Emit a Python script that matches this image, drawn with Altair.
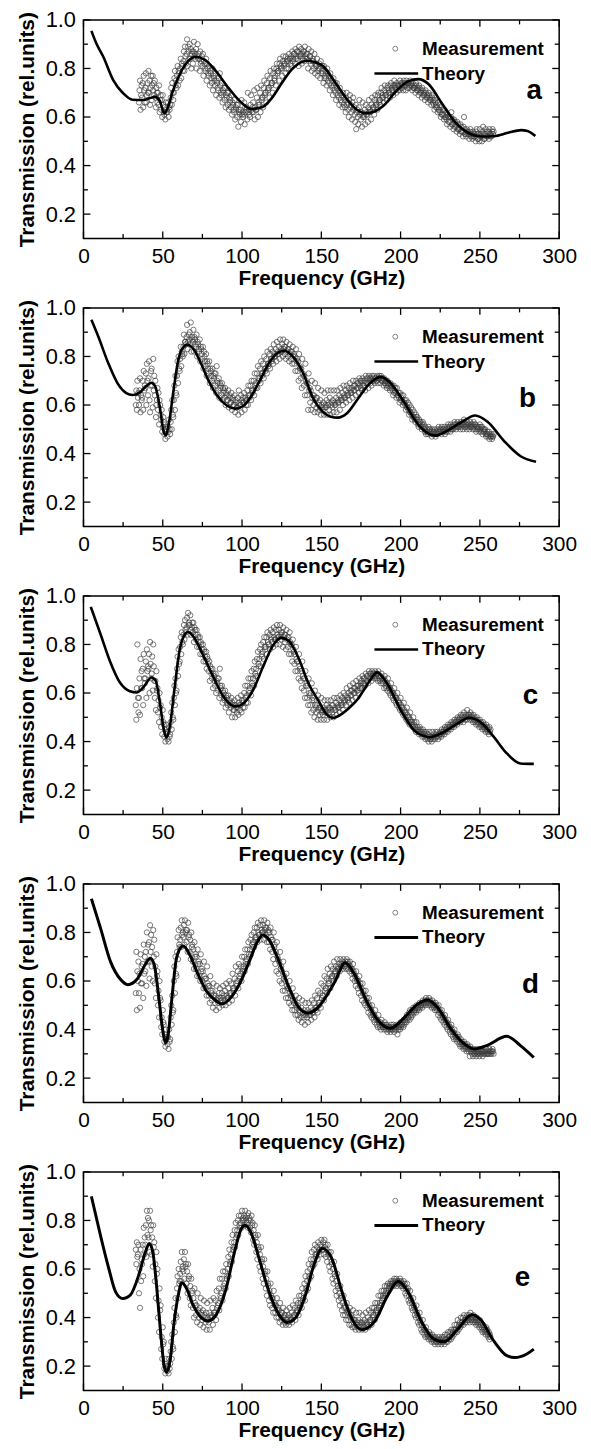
import altair as alt
import pandas as pd

FONT = "Liberation Sans"
FREQ_TICKS = [0, 50, 100, 150, 200, 250, 300]
FREQ_MINOR = [25, 75, 125, 175, 225, 275]
T_TICKS = [0.2, 0.4, 0.6, 0.8, 1.0]
T_MINOR = [0.3, 0.5, 0.7, 0.9]
SAMPLE_STEP = 1.0 / 3.0  # GHz between the six consecutive readings of one row

# ---- theory curves: [frequency GHz, transmission] ----
theory_a = [[5, 0.955], [8, 0.905], [12.5, 0.848], [18.75, 0.752], [25, 0.698], [31, 0.671], [37.5, 0.670],
            [42, 0.678], [45, 0.683], [48, 0.668], [51, 0.616], [53, 0.635], [56, 0.70], [60, 0.766],
            [65.6, 0.827], [70.5, 0.848], [77, 0.834], [83, 0.793], [91.7, 0.718], [100, 0.657], [106, 0.633],
            [112.5, 0.64], [118.75, 0.678], [125, 0.739], [131, 0.793], [137, 0.825], [141, 0.832], [146, 0.826],
            [151, 0.810], [157, 0.759], [165.6, 0.678], [172, 0.632], [178, 0.616], [184, 0.624], [189, 0.645],
            [197, 0.705], [205, 0.748], [211, 0.756], [217.7, 0.735], [226, 0.657], [234, 0.582], [242.7, 0.535],
            [251, 0.520], [259, 0.521], [267.7, 0.535], [276, 0.546], [280, 0.542], [285, 0.522]]
theory_b = [[5, 0.951], [9.4, 0.881], [15.6, 0.773], [21.9, 0.685], [27, 0.649], [31, 0.641], [35.4, 0.651],
            [39.6, 0.678], [42.7, 0.692], [45.2, 0.678], [48, 0.597], [50.6, 0.489], [52, 0.476], [54, 0.53],
            [56.9, 0.665], [59.8, 0.786], [62.5, 0.834], [65.6, 0.848], [69.8, 0.827], [74, 0.773], [79, 0.699],
            [84.4, 0.638], [90.6, 0.597], [95.8, 0.585], [101, 0.597], [106, 0.638], [111.5, 0.705],
            [117.7, 0.78], [124, 0.82], [127, 0.823], [132, 0.80], [138.5, 0.732], [145, 0.625], [151, 0.572],
            [156, 0.552], [160.4, 0.548], [166, 0.565], [173, 0.625], [180, 0.685], [187.5, 0.716], [193, 0.695],
            [201, 0.624], [211.5, 0.516], [219.8, 0.476], [222, 0.474], [228, 0.489], [238.5, 0.53], [247, 0.557],
            [255, 0.53], [265.6, 0.449], [276, 0.388], [285.4, 0.366]]
theory_c = [[4.6, 0.955], [10.5, 0.847], [16.7, 0.731], [23, 0.643], [29.3, 0.607], [33.5, 0.602], [37.7, 0.623],
            [42.9, 0.664], [45.6, 0.65], [48, 0.568], [50.8, 0.446], [52.3, 0.416], [54.4, 0.46], [57.5, 0.623],
            [60.7, 0.779], [63.8, 0.84], [65.9, 0.851], [70, 0.826], [75.3, 0.758], [81.6, 0.67], [87.9, 0.589],
            [94, 0.548], [96, 0.545], [100.4, 0.555], [106.7, 0.609], [113, 0.704], [119.2, 0.792], [124.5, 0.827],
            [129.7, 0.813], [136, 0.738], [142, 0.638], [148.5, 0.565], [153, 0.515], [157.3, 0.498], [162, 0.51],
            [167, 0.535], [173, 0.575], [178, 0.625], [183.5, 0.677], [185, 0.685], [191.8, 0.636], [200.2, 0.528],
            [208.6, 0.446], [217, 0.419], [218, 0.418], [225.3, 0.433], [235.8, 0.474], [243, 0.498], [250.4, 0.48],
            [258.8, 0.419], [267, 0.351], [275.5, 0.31], [284, 0.308]]
theory_d = [[5, 0.939], [10.8, 0.817], [17, 0.681], [23.3, 0.607], [28, 0.585], [33.75, 0.607], [39, 0.668],
            [42, 0.694], [44.6, 0.668], [47.3, 0.545], [50, 0.396], [51.7, 0.345], [53.5, 0.383], [55.6, 0.518],
            [58.3, 0.681], [60.8, 0.733], [62.9, 0.744], [67, 0.708], [72.3, 0.627], [77.5, 0.559], [83.75, 0.518],
            [86.9, 0.505], [92, 0.525], [98.3, 0.586], [104.6, 0.681], [109.8, 0.763], [113, 0.79], [117, 0.77],
            [123.3, 0.681], [129.6, 0.573], [135.8, 0.491], [141.5, 0.468], [147.3, 0.487], [150.4, 0.511],
            [158.75, 0.6], [165, 0.675], [171, 0.627], [178.5, 0.518], [185.8, 0.437], [193.5, 0.405],
            [202.5, 0.45], [210.8, 0.505], [217, 0.522], [223.3, 0.491], [231.7, 0.403], [240, 0.342],
            [246.5, 0.32], [254.6, 0.335], [267, 0.372], [275.4, 0.335], [284, 0.285]]
theory_e = [[5, 0.899], [10.8, 0.736], [16, 0.601], [20.2, 0.507], [24.8, 0.478], [29.6, 0.493], [34.8, 0.574],
            [39, 0.669], [41.5, 0.705], [43.75, 0.669], [46.25, 0.52], [48.75, 0.331], [51, 0.196], [52.5, 0.175],
            [54.6, 0.223], [57, 0.372], [59.8, 0.493], [62, 0.543], [65, 0.52], [69, 0.453], [74.4, 0.399],
            [78.5, 0.386], [83.75, 0.412], [90, 0.52], [95.2, 0.669], [99.4, 0.764], [101.9, 0.78], [105.6, 0.75],
            [110.8, 0.642], [117, 0.507], [123.3, 0.412], [128.5, 0.38], [133.75, 0.399], [140, 0.493],
            [145.5, 0.62], [150.6, 0.685], [156.7, 0.642], [163, 0.507], [169, 0.399], [175.6, 0.35],
            [183.75, 0.385], [192, 0.493], [198.5, 0.55], [204.6, 0.507], [213, 0.385], [221, 0.311], [227.5, 0.30],
            [235.8, 0.351], [245, 0.412], [250.4, 0.392], [258.75, 0.304], [267, 0.243], [272, 0.235],
            [279.6, 0.25], [284, 0.27]]

# ---- measurements: [start GHz, six consecutive readings (hundredths of rel. units)] ----
meas_a = [
    [35, 66, 71, 75, 63, 69, 73], [37, 68, 74, 64, 77, 71, 66], [39, 72, 78, 66, 69, 74, 70], [41, 79, 70, 75, 65, 72, 77],
    [43, 67, 73, 77, 71, 74, 69], [45, 75, 68, 64, 72, 70, 66], [47, 70, 65, 73, 62, 67, 69], [49, 63, 67, 60, 69, 65, 62],
    [51, 61, 64, 59, 66, 62, 63], [53, 62, 66, 60, 64, 63, 65], [55, 68, 72, 65, 74, 70, 67], [57, 70, 76, 79, 73, 75, 72],
    [59, 77, 81, 73, 79, 78, 75], [61, 80, 84, 76, 82, 81, 79], [63, 83, 87, 79, 89, 85, 82], [65, 86, 92, 81, 89, 87, 84],
    [67, 90, 84, 88, 80, 86, 87], [69, 82, 87, 91, 85, 86, 84], [71, 88, 80, 85, 90, 84, 86], [73, 84, 79, 87, 82, 83, 85],
    [75, 81, 86, 77, 83, 82, 80], [77, 79, 84, 75, 82, 80, 78], [79, 77, 81, 73, 79, 78, 76], [81, 74, 80, 71, 77, 76, 75],
    [83, 73, 78, 69, 75, 74, 72], [85, 71, 76, 68, 78, 73, 70], [87, 69, 74, 66, 71, 70, 72], [89, 67, 72, 64, 69, 68, 70],
    [91, 65, 70, 63, 68, 66, 67], [93, 64, 69, 61, 66, 65, 63], [95, 62, 67, 59, 64, 63, 65], [97, 60, 65, 56, 63, 62, 61],
    [99, 63, 58, 67, 61, 62, 60], [101, 61, 66, 57, 64, 62, 63], [103, 64, 59, 70, 62, 63, 61], [105, 60, 65, 69, 63, 62, 64],
    [107, 66, 62, 71, 59, 64, 63], [109, 63, 68, 72, 60, 65, 66], [111, 65, 70, 62, 73, 67, 68], [113, 68, 64, 72, 75, 69, 70],
    [115, 70, 66, 74, 77, 71, 72], [117, 72, 68, 76, 79, 73, 74], [119, 74, 70, 78, 80, 76, 75], [121, 77, 73, 80, 82, 78, 79],
    [123, 79, 75, 82, 84, 80, 81], [125, 80, 77, 83, 85, 81, 82], [127, 82, 78, 85, 80, 83, 84], [129, 83, 80, 86, 84, 84, 82],
    [131, 85, 81, 87, 83, 84, 86], [133, 86, 82, 88, 84, 85, 87], [135, 84, 87, 81, 89, 85, 86], [137, 85, 88, 82, 86, 84, 87],
    [139, 87, 83, 89, 85, 86, 84], [141, 84, 86, 80, 88, 83, 85], [143, 85, 82, 87, 79, 83, 84], [145, 83, 80, 86, 78, 82, 81],
    [147, 81, 84, 77, 79, 80, 82], [149, 80, 76, 83, 78, 79, 81], [151, 78, 74, 81, 76, 77, 79], [153, 76, 73, 80, 78, 75, 77],
    [155, 74, 71, 78, 76, 73, 75], [157, 72, 69, 76, 73, 71, 74], [159, 70, 67, 74, 72, 69, 71], [161, 68, 65, 72, 70, 67, 69],
    [163, 66, 64, 70, 68, 65, 67], [165, 64, 62, 68, 70, 65, 66], [167, 63, 60, 67, 69, 64, 65], [169, 62, 59, 66, 68, 63, 64],
    [171, 61, 58, 65, 55, 62, 63], [173, 60, 57, 64, 67, 61, 62], [175, 59, 62, 56, 66, 60, 61], [177, 60, 63, 57, 65, 61, 62],
    [179, 61, 58, 64, 67, 62, 63], [181, 62, 59, 65, 68, 63, 64], [183, 64, 61, 67, 69, 65, 66], [185, 65, 63, 69, 70, 66, 67],
    [187, 67, 65, 70, 72, 68, 69], [189, 68, 66, 71, 73, 69, 70], [191, 69, 67, 72, 73, 70, 71], [193, 70, 68, 73, 74, 71, 72],
    [195, 71, 69, 73, 75, 72, 73], [197, 72, 70, 74, 73, 71, 73], [199, 73, 71, 75, 72, 74, 73], [201, 72, 74, 71, 75, 73, 74],
    [203, 73, 71, 75, 74, 72, 74], [205, 74, 72, 73, 75, 73, 74], [207, 73, 71, 74, 72, 72, 73], [209, 72, 70, 74, 73, 71, 72],
    [211, 71, 69, 73, 72, 70, 71], [213, 70, 68, 72, 71, 69, 70], [215, 69, 67, 71, 70, 68, 69], [217, 68, 66, 70, 69, 67, 68],
    [219, 67, 65, 69, 68, 66, 67], [221, 65, 63, 67, 66, 64, 65], [223, 64, 62, 66, 63, 63, 65], [225, 62, 60, 64, 61, 61, 63],
    [227, 61, 59, 63, 60, 60, 62], [229, 59, 57, 61, 60, 58, 60], [231, 58, 56, 60, 62, 57, 59], [233, 57, 55, 59, 56, 58, 57],
    [235, 56, 54, 58, 55, 57, 55], [237, 55, 53, 57, 54, 56, 54], [239, 54, 52, 56, 60, 55, 53], [241, 53, 52, 55, 54, 54, 53],
    [243, 53, 51, 54, 55, 52, 53], [245, 52, 51, 54, 53, 52, 53], [247, 52, 50, 54, 55, 53, 51], [249, 51, 53, 50, 55, 52, 53],
    [251, 52, 50, 54, 56, 53, 51], [253, 51, 53, 55, 52, 54, 52], [255, 52, 54, 51, 55, 53, 52], [257, 53, 52, 54, 55, 53, 54]]
meas_b = [
    [33, 60, 66, 58, 70, 63, 65], [35, 60, 66, 71, 57, 64, 62], [37, 63, 70, 58, 74, 66, 68], [39, 67, 73, 60, 77, 70, 64],
    [41, 71, 78, 62, 57, 68, 74], [43, 75, 68, 59, 79, 66, 72], [45, 64, 70, 55, 60, 62, 67], [47, 58, 65, 52, 62, 60, 56],
    [49, 54, 58, 49, 51, 55, 53], [51, 48, 52, 46, 50, 49, 51], [53, 47, 51, 49, 54, 50, 48], [55, 53, 58, 50, 62, 56, 55],
    [57, 62, 68, 58, 72, 65, 64], [59, 72, 78, 69, 80, 75, 74], [61, 79, 84, 76, 82, 81, 80], [63, 84, 89, 81, 86, 86, 85],
    [65, 88, 93, 83, 86, 89, 87], [67, 90, 85, 94, 82, 88, 87], [69, 86, 91, 82, 88, 87, 85], [71, 84, 89, 80, 86, 85, 83],
    [73, 82, 87, 78, 84, 83, 81], [75, 79, 84, 75, 82, 80, 78], [77, 76, 81, 72, 78, 77, 75], [79, 73, 78, 69, 75, 74, 72],
    [81, 70, 75, 67, 72, 71, 73], [83, 68, 73, 65, 76, 70, 69], [85, 66, 71, 63, 69, 67, 68], [87, 64, 69, 62, 67, 65, 66],
    [89, 63, 67, 60, 65, 64, 62], [91, 62, 66, 59, 64, 63, 61], [93, 61, 65, 58, 63, 62, 60], [95, 60, 64, 57, 62, 61, 59],
    [97, 59, 63, 56, 66, 61, 60], [99, 60, 64, 57, 62, 61, 63], [101, 61, 65, 58, 63, 62, 60], [103, 62, 66, 60, 68, 64, 63],
    [105, 64, 68, 62, 70, 66, 65], [107, 66, 70, 64, 73, 68, 67], [109, 69, 73, 67, 76, 71, 70], [111, 71, 75, 69, 78, 73, 72],
    [113, 73, 77, 71, 80, 75, 74], [115, 75, 79, 73, 82, 77, 76], [117, 77, 81, 75, 83, 79, 78], [119, 79, 82, 77, 85, 80, 81],
    [121, 80, 83, 78, 86, 81, 82], [123, 81, 84, 79, 87, 82, 83], [125, 82, 85, 80, 87, 83, 84], [127, 81, 84, 79, 86, 82, 83],
    [129, 80, 83, 78, 85, 81, 82], [131, 79, 82, 77, 84, 80, 81], [133, 77, 80, 74, 83, 78, 79], [135, 74, 78, 70, 81, 76, 75],
    [137, 71, 75, 67, 79, 73, 72], [139, 68, 72, 64, 77, 70, 69], [141, 64, 69, 58, 73, 66, 67], [143, 61, 66, 58, 70, 63, 64],
    [145, 60, 64, 57, 69, 62, 63], [147, 59, 63, 57, 67, 61, 60], [149, 58, 62, 56, 66, 60, 59], [151, 58, 61, 56, 65, 59, 60],
    [153, 59, 62, 56, 66, 60, 61], [155, 58, 63, 56, 66, 60, 61], [157, 59, 62, 57, 66, 60, 61], [159, 60, 63, 57, 66, 61, 62],
    [161, 61, 64, 58, 67, 62, 63], [163, 62, 65, 60, 68, 63, 64], [165, 63, 66, 61, 68, 64, 65], [167, 64, 67, 62, 69, 65, 66],
    [169, 65, 67, 63, 70, 66, 68], [171, 66, 68, 64, 70, 67, 69], [173, 67, 69, 65, 71, 68, 70], [175, 67, 70, 66, 71, 68, 69],
    [177, 68, 70, 66, 72, 69, 71], [179, 69, 71, 67, 72, 70, 71], [181, 69, 71, 68, 72, 70, 71], [183, 70, 72, 69, 71, 71, 70],
    [185, 70, 72, 69, 71, 71, 72], [187, 71, 69, 72, 70, 70, 71], [189, 70, 68, 71, 69, 69, 70], [191, 68, 67, 70, 69, 68, 69],
    [193, 67, 66, 69, 68, 67, 68], [195, 66, 64, 68, 65, 66, 67], [197, 65, 63, 67, 64, 64, 65], [199, 63, 61, 65, 62, 63, 64],
    [201, 62, 60, 64, 61, 61, 62], [203, 60, 58, 62, 59, 59, 61], [205, 58, 56, 60, 57, 57, 59], [207, 56, 54, 58, 55, 55, 57],
    [209, 54, 53, 56, 55, 54, 55], [211, 52, 51, 54, 53, 52, 53], [213, 51, 50, 52, 53, 51, 52], [215, 50, 49, 51, 48, 49, 50],
    [217, 49, 48, 51, 50, 49, 50], [219, 48, 49, 47, 50, 48, 49], [221, 49, 48, 50, 47, 48, 49], [223, 48, 50, 49, 51, 49, 50],
    [225, 49, 50, 48, 51, 49, 50], [227, 50, 49, 51, 48, 50, 49], [229, 50, 51, 49, 52, 50, 51], [231, 51, 49, 52, 50, 51, 50],
    [233, 51, 50, 52, 53, 51, 52], [235, 50, 52, 51, 53, 51, 52], [237, 51, 52, 50, 53, 51, 52], [239, 52, 50, 53, 54, 51, 52],
    [241, 51, 52, 50, 53, 51, 52], [243, 52, 50, 51, 53, 51, 52], [245, 51, 52, 50, 53, 51, 52], [247, 50, 52, 49, 51, 50, 51],
    [249, 50, 51, 49, 52, 50, 51], [251, 49, 51, 48, 50, 49, 50], [253, 49, 50, 48, 47, 48, 49], [255, 48, 47, 49, 46, 48, 47],
    [257, 47, 48, 46, 47, 47, 48]]
meas_c = [
    [33, 55, 49, 62, 80, 58, 52], [35, 58, 66, 51, 74, 62, 69], [37, 62, 70, 55, 76, 66, 64], [39, 66, 73, 58, 78, 69, 71],
    [41, 70, 76, 60, 81, 72, 66], [43, 68, 75, 61, 80, 71, 65], [45, 58, 65, 53, 69, 61, 62], [47, 52, 57, 48, 60, 54, 55],
    [49, 46, 50, 43, 53, 48, 47], [51, 42, 45, 40, 47, 43, 44], [53, 41, 44, 40, 46, 42, 43], [55, 48, 52, 45, 56, 50, 49],
    [57, 58, 63, 55, 66, 60, 61], [59, 70, 75, 67, 78, 72, 73], [61, 79, 83, 76, 85, 81, 80], [63, 84, 88, 82, 90, 86, 85],
    [65, 87, 91, 84, 93, 88, 89], [67, 88, 92, 84, 86, 87, 89], [69, 85, 89, 81, 87, 86, 84], [71, 82, 86, 79, 84, 83, 81],
    [73, 79, 83, 76, 81, 80, 78], [75, 76, 80, 73, 78, 77, 75], [77, 73, 77, 70, 75, 74, 72], [79, 69, 73, 65, 71, 70, 68],
    [81, 66, 70, 62, 68, 67, 65], [83, 63, 68, 60, 65, 64, 66], [85, 61, 66, 58, 70, 63, 62], [87, 59, 63, 56, 61, 60, 58],
    [89, 57, 61, 54, 59, 58, 56], [91, 55, 59, 52, 57, 56, 55], [93, 54, 58, 50, 56, 55, 53], [95, 53, 57, 50, 55, 54, 52],
    [97, 54, 58, 51, 56, 55, 53], [99, 55, 59, 52, 57, 56, 54], [101, 57, 60, 54, 63, 58, 56], [103, 59, 63, 56, 66, 61, 60],
    [105, 62, 66, 59, 69, 64, 63], [107, 66, 70, 63, 73, 68, 67], [109, 70, 74, 67, 77, 72, 71], [111, 74, 78, 71, 80, 76, 75],
    [113, 77, 81, 74, 83, 79, 78], [115, 79, 83, 76, 85, 81, 80], [117, 80, 84, 78, 86, 82, 83], [119, 81, 85, 79, 87, 83, 82],
    [121, 82, 86, 80, 88, 84, 83], [123, 83, 86, 80, 88, 84, 85], [125, 82, 85, 79, 87, 83, 84], [127, 81, 84, 78, 86, 82, 83],
    [129, 79, 83, 76, 85, 81, 80], [131, 76, 80, 73, 82, 78, 77], [133, 72, 76, 69, 79, 74, 73], [135, 69, 73, 66, 76, 71, 70],
    [137, 65, 69, 62, 73, 67, 66], [139, 61, 66, 58, 69, 63, 64], [141, 58, 63, 55, 66, 60, 59], [143, 55, 60, 52, 64, 57, 58],
    [145, 53, 57, 50, 61, 55, 54], [147, 52, 55, 49, 59, 53, 54], [149, 51, 54, 49, 58, 52, 53], [151, 51, 54, 49, 57, 52, 53],
    [153, 52, 55, 49, 57, 53, 54], [155, 52, 54, 50, 57, 53, 55], [157, 52, 55, 50, 58, 53, 54], [159, 53, 56, 51, 58, 54, 55],
    [161, 54, 57, 52, 59, 55, 56], [163, 55, 58, 53, 60, 56, 57], [165, 57, 59, 55, 62, 58, 57], [167, 58, 60, 56, 63, 59, 61],
    [169, 59, 61, 57, 64, 60, 62], [171, 60, 62, 58, 65, 61, 63], [173, 61, 63, 60, 66, 62, 64], [175, 63, 65, 62, 67, 64, 66],
    [177, 64, 66, 63, 68, 65, 67], [179, 65, 67, 64, 69, 66, 68], [181, 66, 68, 65, 69, 67, 68], [183, 67, 68, 66, 69, 67, 68],
    [185, 66, 68, 65, 69, 67, 66], [187, 65, 67, 64, 68, 66, 65], [189, 64, 66, 62, 67, 65, 63], [191, 62, 64, 61, 66, 63, 62],
    [193, 60, 62, 59, 64, 61, 60], [195, 58, 60, 57, 62, 59, 58], [197, 56, 58, 55, 60, 57, 56], [199, 54, 56, 53, 58, 55, 54],
    [201, 52, 54, 51, 56, 53, 52], [203, 50, 52, 49, 54, 51, 50], [205, 48, 50, 47, 52, 49, 48], [207, 47, 48, 46, 50, 47, 48],
    [209, 45, 46, 44, 48, 45, 46], [211, 44, 45, 43, 46, 44, 45], [213, 43, 44, 42, 45, 43, 44], [215, 42, 43, 41, 44, 42, 43],
    [217, 41, 43, 40, 44, 42, 41], [219, 41, 42, 40, 44, 42, 41], [221, 42, 43, 41, 44, 42, 43], [223, 42, 44, 41, 43, 42, 43],
    [225, 43, 44, 42, 45, 43, 44], [227, 44, 45, 43, 46, 44, 45], [229, 45, 46, 44, 47, 45, 46], [231, 46, 47, 45, 48, 46, 47],
    [233, 47, 48, 46, 49, 47, 48], [235, 48, 49, 47, 50, 48, 49], [237, 49, 50, 48, 51, 49, 50], [239, 49, 51, 48, 52, 50, 49],
    [241, 50, 51, 49, 53, 50, 51], [243, 50, 51, 49, 52, 50, 51], [245, 49, 50, 48, 51, 49, 50], [247, 48, 49, 47, 50, 48, 49],
    [249, 47, 48, 46, 49, 47, 48], [251, 46, 47, 45, 48, 46, 47], [253, 45, 46, 44, 47, 45, 46], [255, 44, 45, 43, 46, 44, 45]]
meas_d = [
    [33, 55, 72, 48, 64, 60, 68], [35, 55, 63, 49, 71, 59, 66], [37, 59, 67, 53, 75, 63, 70], [39, 64, 72, 58, 80, 68, 75],
    [41, 68, 76, 61, 83, 72, 79], [43, 66, 74, 60, 81, 70, 77], [45, 59, 66, 53, 71, 62, 64], [47, 50, 56, 45, 60, 53, 52],
    [49, 41, 45, 38, 48, 43, 42], [51, 35, 38, 33, 40, 36, 37], [53, 34, 37, 32, 40, 35, 36], [55, 45, 50, 42, 54, 47, 48],
    [57, 60, 66, 55, 70, 63, 62], [59, 72, 78, 69, 81, 75, 74], [61, 77, 82, 74, 85, 79, 80], [63, 78, 83, 75, 85, 80, 81],
    [65, 76, 81, 72, 84, 78, 79], [67, 72, 77, 69, 80, 74, 75], [69, 68, 73, 65, 76, 70, 71], [71, 65, 70, 62, 73, 67, 68],
    [73, 62, 67, 60, 71, 64, 65], [75, 60, 64, 57, 68, 62, 61], [77, 57, 61, 54, 66, 59, 58], [79, 54, 58, 51, 62, 56, 55],
    [81, 52, 56, 49, 59, 54, 53], [83, 51, 54, 48, 58, 52, 53], [85, 51, 55, 49, 57, 52, 53], [87, 52, 55, 50, 58, 53, 54],
    [89, 52, 56, 50, 59, 54, 53], [91, 53, 57, 51, 60, 55, 54], [93, 55, 59, 52, 63, 57, 56], [95, 57, 61, 54, 66, 59, 58],
    [97, 60, 64, 57, 67, 62, 61], [99, 63, 66, 60, 70, 64, 65], [101, 66, 70, 64, 73, 68, 67], [103, 69, 73, 67, 76, 71, 70],
    [105, 73, 77, 71, 79, 75, 74], [107, 76, 80, 74, 82, 78, 77], [109, 78, 82, 76, 84, 80, 79], [111, 79, 83, 77, 85, 81, 80],
    [113, 80, 83, 77, 85, 81, 82], [115, 79, 82, 76, 84, 80, 81], [117, 76, 80, 73, 82, 78, 77], [119, 72, 77, 69, 80, 74, 75],
    [121, 67, 72, 64, 76, 70, 69], [123, 63, 68, 60, 72, 65, 66], [125, 59, 64, 56, 68, 61, 62], [127, 56, 60, 53, 63, 58, 57],
    [129, 53, 57, 51, 60, 55, 54], [131, 50, 54, 48, 57, 52, 51], [133, 48, 52, 46, 54, 50, 49], [135, 46, 50, 44, 53, 48, 47],
    [137, 45, 49, 43, 52, 47, 46], [139, 45, 48, 42, 51, 46, 47], [141, 45, 48, 43, 51, 46, 47], [143, 46, 49, 44, 52, 47, 48],
    [145, 47, 51, 45, 54, 49, 48], [147, 49, 53, 47, 56, 51, 50], [149, 51, 55, 49, 59, 53, 54], [151, 54, 58, 52, 62, 56, 57],
    [153, 57, 61, 55, 65, 59, 60], [155, 59, 63, 57, 66, 61, 62], [157, 62, 65, 60, 68, 63, 64], [159, 64, 66, 62, 69, 65, 66],
    [161, 65, 67, 64, 69, 66, 67], [163, 66, 68, 65, 69, 67, 66], [165, 66, 68, 65, 69, 67, 68], [167, 65, 67, 64, 68, 66, 65],
    [169, 63, 65, 61, 67, 64, 63], [171, 60, 62, 58, 64, 61, 60], [173, 57, 60, 55, 62, 58, 59], [175, 54, 57, 52, 59, 55, 56],
    [177, 51, 54, 50, 56, 52, 53], [179, 49, 51, 47, 53, 50, 49], [181, 46, 48, 45, 50, 47, 46], [183, 44, 46, 43, 48, 45, 44],
    [185, 42, 44, 41, 46, 43, 42], [187, 41, 43, 40, 44, 42, 41], [189, 41, 42, 40, 43, 41, 42], [191, 40, 42, 39, 41, 40, 41],
    [193, 40, 41, 39, 42, 40, 41], [195, 40, 42, 41, 39, 40, 41], [197, 41, 40, 42, 38, 41, 40], [199, 41, 42, 40, 43, 41, 42],
    [201, 42, 43, 41, 44, 42, 43], [203, 44, 45, 43, 46, 44, 45], [205, 45, 47, 44, 48, 46, 45], [207, 47, 48, 46, 49, 47, 48],
    [209, 48, 49, 47, 50, 48, 49], [211, 49, 50, 48, 51, 49, 50], [213, 50, 51, 49, 52, 50, 51], [215, 51, 52, 50, 53, 51, 52],
    [217, 51, 52, 50, 53, 51, 52], [219, 50, 51, 49, 52, 50, 51], [221, 49, 50, 48, 51, 49, 50], [223, 48, 49, 46, 50, 47, 48],
    [225, 45, 47, 44, 48, 46, 45], [227, 43, 45, 42, 46, 44, 43], [229, 41, 43, 40, 44, 42, 41], [231, 39, 41, 38, 42, 40, 39],
    [233, 37, 39, 36, 40, 38, 37], [235, 36, 37, 35, 38, 36, 37], [237, 34, 35, 33, 36, 34, 35], [239, 33, 34, 32, 35, 33, 34],
    [241, 32, 33, 31, 34, 32, 33], [243, 31, 32, 29, 33, 31, 32], [245, 30, 31, 29, 32, 30, 31], [247, 30, 31, 29, 32, 30, 31],
    [249, 30, 31, 29, 32, 30, 31], [251, 30, 31, 29, 31, 30, 31], [253, 30, 31, 30, 32, 31, 30], [255, 30, 31, 30, 32, 31, 30],
    [257, 31, 30, 31, 32, 31, 30]]
meas_e = [
    [33, 68, 62, 71, 65, 66, 70], [35, 50, 60, 44, 68, 55, 64], [37, 62, 70, 57, 77, 66, 73], [39, 70, 78, 65, 84, 74, 81],
    [41, 73, 80, 67, 84, 76, 78], [43, 66, 73, 61, 78, 69, 71], [45, 55, 62, 48, 67, 58, 60], [47, 40, 47, 34, 52, 43, 45],
    [49, 27, 32, 23, 36, 29, 30], [51, 19, 21, 17, 23, 20, 19], [53, 18, 20, 17, 23, 19, 21], [55, 26, 30, 23, 33, 28, 27],
    [57, 38, 44, 34, 48, 41, 40], [59, 52, 57, 48, 60, 54, 55], [61, 58, 63, 55, 67, 60, 61], [63, 59, 64, 56, 67, 61, 62],
    [65, 54, 59, 50, 62, 56, 57], [67, 48, 53, 45, 56, 50, 51], [69, 44, 48, 40, 52, 46, 45], [71, 41, 45, 38, 50, 43, 42],
    [73, 40, 44, 37, 48, 42, 41], [75, 39, 43, 36, 47, 41, 40], [77, 38, 42, 35, 46, 40, 39], [79, 38, 42, 35, 47, 40, 41],
    [81, 40, 44, 37, 48, 42, 41], [83, 42, 47, 39, 51, 44, 45], [85, 46, 52, 43, 56, 49, 48], [87, 50, 56, 47, 59, 53, 52],
    [89, 54, 59, 52, 62, 56, 57], [91, 60, 65, 57, 68, 62, 63], [93, 66, 71, 63, 74, 68, 69], [95, 71, 76, 69, 79, 73, 74],
    [97, 76, 80, 74, 82, 78, 77], [99, 79, 82, 77, 84, 80, 81], [101, 80, 82, 78, 84, 81, 80], [103, 79, 82, 77, 83, 80, 81],
    [105, 77, 80, 75, 82, 78, 79], [107, 72, 76, 70, 78, 74, 73], [109, 67, 71, 64, 74, 69, 68], [111, 61, 66, 59, 69, 63, 64],
    [113, 56, 61, 54, 64, 58, 59], [115, 52, 56, 49, 59, 54, 53], [117, 47, 51, 45, 54, 49, 48], [119, 44, 48, 42, 51, 46, 45],
    [121, 42, 45, 40, 48, 43, 44], [123, 40, 43, 38, 46, 41, 42], [125, 39, 42, 37, 44, 40, 41], [127, 38, 41, 37, 43, 39, 40],
    [129, 38, 41, 37, 44, 39, 40], [131, 39, 42, 38, 45, 40, 41], [133, 41, 44, 39, 47, 42, 43], [135, 43, 46, 41, 49, 44, 45],
    [137, 46, 49, 44, 52, 47, 48], [139, 50, 54, 47, 57, 52, 51], [141, 55, 59, 52, 62, 57, 56], [143, 60, 64, 57, 67, 62, 61],
    [145, 64, 68, 62, 70, 66, 65], [147, 66, 69, 64, 71, 67, 68], [149, 68, 70, 66, 72, 69, 68], [151, 68, 71, 66, 72, 69, 70],
    [153, 65, 68, 63, 70, 66, 67], [155, 61, 65, 59, 67, 63, 62], [157, 56, 60, 54, 63, 58, 57], [159, 51, 55, 49, 58, 53, 52],
    [161, 47, 50, 45, 53, 48, 49], [163, 43, 46, 41, 49, 44, 45], [165, 41, 44, 39, 46, 42, 43], [167, 39, 42, 37, 44, 40, 41],
    [169, 37, 40, 36, 43, 38, 39], [171, 36, 39, 35, 42, 37, 38], [173, 36, 39, 35, 42, 37, 38], [175, 36, 38, 35, 41, 37, 38],
    [177, 36, 39, 35, 42, 37, 38], [179, 37, 40, 36, 43, 38, 39], [181, 39, 42, 37, 44, 40, 41], [183, 41, 44, 39, 46, 42, 43],
    [185, 43, 46, 42, 49, 44, 45], [187, 46, 49, 45, 51, 47, 48], [189, 49, 51, 48, 53, 50, 49], [191, 51, 53, 50, 54, 52, 51],
    [193, 53, 54, 52, 55, 53, 54], [195, 54, 55, 53, 56, 54, 55], [197, 54, 56, 53, 55, 55, 54], [199, 54, 55, 56, 53, 55, 54],
    [201, 53, 54, 52, 55, 53, 54], [203, 50, 52, 49, 54, 51, 52], [205, 47, 49, 46, 51, 48, 47], [207, 44, 46, 43, 48, 45, 44],
    [209, 41, 43, 40, 45, 42, 41], [211, 38, 40, 37, 42, 39, 38], [213, 35, 37, 34, 39, 36, 35], [215, 33, 35, 32, 36, 34, 33],
    [217, 32, 33, 31, 34, 32, 33], [219, 31, 32, 30, 33, 31, 32], [221, 30, 31, 29, 32, 30, 31], [223, 30, 31, 29, 32, 30, 31],
    [225, 30, 31, 29, 32, 30, 31], [227, 30, 32, 29, 33, 31, 30], [229, 31, 33, 30, 34, 32, 31], [231, 32, 34, 31, 35, 33, 32],
    [233, 34, 35, 33, 37, 35, 34], [235, 35, 37, 34, 39, 36, 35], [237, 37, 38, 36, 40, 37, 38], [239, 38, 40, 37, 41, 39, 38],
    [241, 39, 40, 38, 41, 39, 40], [243, 39, 41, 38, 42, 40, 39], [245, 39, 40, 38, 41, 39, 40], [247, 38, 39, 37, 40, 38, 39],
    [249, 37, 38, 36, 39, 37, 38], [251, 35, 36, 34, 37, 35, 36], [253, 34, 35, 33, 36, 34, 35], [255, 33, 32, 34, 31, 33, 32]]

W, H = 479, 220
XS = alt.Scale(domain=[0, 300], nice=False, zero=False)
YS = alt.Scale(domain=[0.1, 1.0], nice=False, zero=False)
X_AXIS = alt.Axis(values=FREQ_TICKS, format="d", title="Frequency (GHz)", grid=False, domain=False,
                  ticks=False, tickSize=0, labelFontSize=21, labelPadding=7, labelFlush=False,
                  labelOverlap=False, titleFontSize=21, titleFontWeight="bold", titlePadding=1)
Y_AXIS = alt.Axis(values=T_TICKS, format=".1f", title="Transmission (rel.units)", grid=False, domain=False,
                  ticks=False, tickSize=0, labelFontSize=22, labelPadding=8, labelFlush=False,
                  labelOverlap=False, titleFontSize=21, titleFontWeight="bold", titleAngle=270,
                  titleBaseline="middle", titleX=-56, titleY=110)
GREY = "#3c3c3c"
ONE = pd.DataFrame({"k": [0]})


def tick_layers(X, Y):
    out = []
    for vals, ln in ((FREQ_TICKS, 7), (FREQ_MINOR, 4.5)):
        d = pd.DataFrame({"f": vals})
        out.append(alt.Chart(d).mark_rule(color="black", strokeWidth=1.3).encode(
            x=X, y=alt.value(H), y2=alt.value(H - ln)))
        out.append(alt.Chart(d).mark_rule(color="black", strokeWidth=1.3).encode(
            x=X, y=alt.value(0), y2=alt.value(ln)))
    for vals, ln in ((T_TICKS, 7), (T_MINOR, 4.5)):
        d = pd.DataFrame({"t": vals})
        out.append(alt.Chart(d).mark_rule(color="black", strokeWidth=1.3).encode(
            y=Y, x=alt.value(0), x2=alt.value(ln)))
        out.append(alt.Chart(d).mark_rule(color="black", strokeWidth=1.3).encode(
            y=Y, x=alt.value(W), x2=alt.value(W - ln)))
    return out


def panel(meas, theory, letter, letter_pos, lw):
    mdf = pd.DataFrame([{"f": r[0] + i * SAMPLE_STEP, "t": v / 100.0}
                        for r in meas for i, v in enumerate(r[1:])])
    tdf = pd.DataFrame(theory, columns=["f", "t"])
    X = alt.X("f:Q", scale=XS, axis=X_AXIS)
    Y = alt.Y("t:Q", scale=YS, axis=Y_AXIS)
    pts = alt.Chart(mdf).mark_point(shape="circle", filled=False, size=28, stroke=GREY,
                                    strokeWidth=0.85, opacity=0.8).encode(x=X, y=Y)
    line = alt.Chart(tdf).mark_line(interpolate="monotone", color="black",
                                    strokeWidth=lw).encode(x=X, y=Y)
    leg = [
        alt.Chart(ONE).mark_point(shape="circle", filled=False, size=24, stroke=GREY,
                                  strokeWidth=0.9).encode(x=alt.value(314), y=alt.value(29)),
        alt.Chart(ONE).mark_text(text="Measurement", align="left", baseline="middle", fontSize=19,
                                 fontWeight="bold", font=FONT, color="black").encode(
            x=alt.value(341), y=alt.value(29)),
        alt.Chart(ONE).mark_rule(color="black", strokeWidth=lw).encode(
            x=alt.value(293), x2=alt.value(337), y=alt.value(54)),
        alt.Chart(ONE).mark_text(text="Theory", align="left", baseline="middle", fontSize=19,
                                 fontWeight="bold", font=FONT, color="black").encode(
            x=alt.value(341), y=alt.value(54)),
        alt.Chart(ONE).mark_text(text=letter, align="center", baseline="middle", fontSize=28,
                                 fontWeight="bold", font=FONT, color="black").encode(
            x=alt.value(letter_pos[0]), y=alt.value(letter_pos[1])),
    ]
    return alt.layer(pts, line, *tick_layers(X, Y), *leg).properties(width=W, height=H)


panels = [
    panel(meas_a, theory_a, "a", (454, 72), 2.6),
    panel(meas_b, theory_b, "b", (447, 92), 2.6),
    panel(meas_c, theory_c, "c", (450, 101), 2.6),
    panel(meas_d, theory_d, "d", (450, 102), 3.0),
    panel(meas_e, theory_e, "e", (442, 107), 3.0),
]

chart = alt.vconcat(*panels, spacing=70, bounds="flush").properties(
    padding={"left": 8, "top": -5, "right": 5, "bottom": 0}
).configure(font=FONT).configure_view(stroke="black", strokeWidth=1.5).configure_axis(
    labelFont=FONT, titleFont=FONT, labelColor="black", titleColor="black"
)

chart.save("out.html", embed_options={"renderer": "svg", "actions": False})
